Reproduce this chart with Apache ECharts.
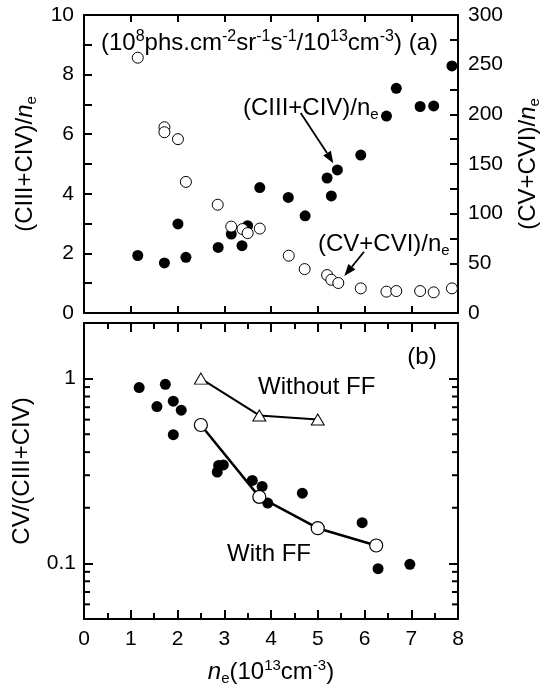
<!DOCTYPE html>
<html>
<head>
<meta charset="utf-8">
<script src="https://cdn.jsdelivr.net/npm/echarts@6/dist/echarts.min.js"></script>
<style>html,body{margin:0;padding:0;background:#fff;}#c{width:544px;height:691px;}</style>
</head>
<body>
<div id="c"></div>
<script>
// ---- data ----
// panel (a): (CIII+CIV)/ne, left axis
const neA1 = [1.15,1.72,2.01,2.18,2.87,3.15,3.38,3.50,3.76,4.37,4.73,5.20,5.42,5.29,5.92,6.47,6.68,7.19,7.48,7.87];
const ciiiCiv = [1.93,1.68,2.99,1.87,2.20,2.65,2.26,2.93,4.21,3.88,3.26,4.53,4.80,3.93,5.30,6.61,7.54,6.93,6.95,8.29];
// panel (a): (CV+CVI)/ne, right axis
const neA2 = [1.15,1.72,1.72,2.01,2.18,2.86,3.15,3.39,3.50,3.76,4.38,4.72,5.20,5.29,5.44,5.92,6.47,6.68,7.19,7.48,7.87];
const cvCvi = [257,187,182,175,132,109,87,84.5,80.4,85,57.7,44.2,38.2,33.5,30.2,24.8,21.5,22.1,22.1,20.8,24.8];
// panel (b): CV/(CIII+CIV) measured
const neB = [1.18,1.56,1.74,1.91,2.08,1.91,2.85,2.88,2.98,3.60,3.81,3.93,4.67,5.95,6.29,6.97];
const ratioB = [0.894,0.706,0.932,0.755,0.675,0.497,0.312,0.339,0.341,0.281,0.261,0.212,0.240,0.166,0.0936,0.0988];
// panel (b): model curves
const neWith = [2.5,3.75,5.0,6.25];
const withFF = [0.561,0.229,0.155,0.125];
const neWithout = [2.5,3.75,5.0];
const withoutFF = [1.0,0.632,0.601];
// tick values
const xTicks = [0,1,2,3,4,5,6,7,8];
const logLabels = [0.1, 1];
const logMinor = [0.06,0.07,0.08,0.09,0.2,0.3,0.4,0.5,0.6,0.7,0.8,0.9];

const zip = (a,b) => a.map((v,i)=>[v,b[i]]);
const F = 'Liberation Sans';
const TC = '#000';
const AX = {show:true, lineStyle:{color:'#000',width:2}, onZero:false};
const TK = (len) => ({show:true, inside:true, length:len, lineStyle:{color:TC,width:2}});
const MTK = (show,len) => ({show:show, splitNumber:2, length:len, lineStyle:{color:TC,width:2}});
const NF = 24;
const nameRich = {i:{fontStyle:'italic',fontFamily:F,fontSize:NF,lineHeight:28,color:'#000'},
  sub:{fontFamily:F,fontSize:15,lineHeight:15,verticalAlign:'bottom',color:'#000'},
  sup:{fontFamily:F,fontSize:15,lineHeight:15,verticalAlign:'top',color:'#000'}};

function xAx(grid, pos, labels, minor){
  return {type:'value', gridIndex:grid, position:pos, min:0, max:8, interval:1,
    axisLine:AX, splitLine:{show:false},
    axisTick:TK(minor?9:7),
    minorTick:MTK(minor,6),
    axisLabel:{show:labels, margin:10, color:'#000', fontFamily:F, fontSize:21,
      formatter:v=> xTicks.indexOf(v)>=0 ? String(v) : ''},
    name: labels ? '{i|n}{sub|e}(10{sup|13}cm{sup|-3})' : '',
    nameLocation:'middle', nameGap:39,
    nameTextStyle:{color:'#000', fontFamily:F, fontSize:NF, lineHeight:28, rich:nameRich}
  };
}

const option = {
  animation:false,
  backgroundColor:'#fff',
  grid:[
    {left:84, right:86, top:15, height:298, containLabel:false, outerBoundsMode:'none'},
    {left:84, right:86, top:323, height:296, containLabel:false, outerBoundsMode:'none'}
  ],
  xAxis:[ xAx(0,'bottom',false,false), xAx(0,'top',false,false), xAx(1,'bottom',true,true), xAx(1,'top',false,true) ],
  yAxis:[
    {type:'value', gridIndex:0, position:'left', min:0, max:10, interval:2,
     axisLine:AX, splitLine:{show:false}, axisTick:TK(8), minorTick:MTK(true,8),
     axisLabel:{margin:10,color:'#000',fontFamily:F,fontSize:21},
     name:'(CIII+CIV)/{i|n}{sub|e}', nameLocation:'middle', nameRotate:90, nameGap:39,
     nameTextStyle:{color:'#000',fontFamily:F,fontSize:NF,lineHeight:28,rich:nameRich}},
    {type:'value', gridIndex:0, position:'right', min:0, max:300, interval:50,
     axisLine:AX, splitLine:{show:false}, axisTick:TK(8), minorTick:MTK(true,8),
     axisLabel:{margin:10,color:'#000',fontFamily:F,fontSize:21},
     name:'(CV+CVI)/{i|n}{sub|e}', nameLocation:'middle', nameRotate:90, nameGap:49,
     nameTextStyle:{color:'#000',fontFamily:F,fontSize:NF,lineHeight:28,rich:nameRich}},
    {type:'log', logBase:10, gridIndex:1, position:'left', min:0.05, max:2,
     axisLine:AX, splitLine:{show:false}, axisTick:TK(9),
     axisLabel:{margin:8,color:'#000',fontFamily:F,fontSize:21,
       formatter:v=> logLabels.some(t=>Math.abs(t-v)<1e-9) ? String(v) : ''},
     name:'CV/(CIII+CIV)', nameLocation:'middle', nameRotate:90, nameGap:39,
     nameTextStyle:{color:'#000',fontFamily:F,fontSize:NF,lineHeight:28}},
    {type:'log', logBase:10, gridIndex:1, position:'right', min:0.05, max:2,
     axisLine:AX, splitLine:{show:false}, axisTick:TK(9),
     axisLabel:{show:false}}
  ],
  series:[
    {type:'scatter', xAxisIndex:0, yAxisIndex:0, data:zip(neA1,ciiiCiv), symbol:'circle', symbolSize:11,
     itemStyle:{color:'#000',opacity:1}, z:3},
    {type:'scatter', xAxisIndex:0, yAxisIndex:1, data:zip(neA2,cvCvi), symbol:'circle', symbolSize:11,
     itemStyle:{color:'#fff',borderColor:'#000',borderWidth:1,opacity:1}, z:4},
    {type:'scatter', xAxisIndex:2, yAxisIndex:2, data:zip(neB,ratioB), symbol:'circle', symbolSize:11,
     itemStyle:{color:'#000',opacity:1}, z:3},
    {type:'line', xAxisIndex:2, yAxisIndex:2, data:zip(neWith,withFF), symbol:'circle', symbolSize:13,
     showAllSymbol:true, lineStyle:{color:'#000',width:2.5}, itemStyle:{color:'#fff',borderColor:'#000',borderWidth:1.2,opacity:1}, z:4},
    {type:'line', xAxisIndex:2, yAxisIndex:2, data:zip(neWithout,withoutFF), symbol:'triangle', symbolSize:[13,11],
     showAllSymbol:true, lineStyle:{color:'#000',width:2}, itemStyle:{color:'#fff',borderColor:'#000',borderWidth:1,opacity:1}, z:4},
    {type:'custom', xAxisIndex:2, yAxisIndex:2, data:logMinor.map(v=>[0,v]), clip:false, silent:true, z:10,
     renderItem:(params, api)=>{
       const v = api.value(1);
       const pl = api.coord([0, v]); const pr = api.coord([8, v]);
       return {type:'group', children:[
         {type:'line', shape:{x1:pl[0],y1:pl[1],x2:pl[0]+6,y2:pl[1]}, style:{stroke:TC,lineWidth:2}},
         {type:'line', shape:{x1:pr[0],y1:pr[1],x2:pr[0]-6,y2:pr[1]}, style:{stroke:TC,lineWidth:2}}
       ]};
     }}
  ],
  graphic:[
    {type:'text', x:101, y:43, style:{text:'(10{sup|8}phs.cm{sup|-2}sr{sup|-1}s{sup|-1}/10{sup|13}cm{sup|-3}) (a)',
      fill:'#000', font:NF+'px '+F, lineHeight:28, verticalAlign:'middle', align:'left',
      rich:{sup:{fontFamily:F,fontSize:16,lineHeight:16,verticalAlign:'top',fill:'#000'}}}},
    {type:'text', x:243, y:108, style:{text:'(CIII+CIV)/n{sub|e}', fill:'#000', font:NF+'px '+F, lineHeight:28,
      verticalAlign:'middle', align:'left',
      rich:{sub:{fontFamily:F,fontSize:15,lineHeight:15,verticalAlign:'bottom',fill:'#000'}}}},
    {type:'text', x:318, y:244, style:{text:'(CV+CVI)/n{sub|e}', fill:'#000', font:NF+'px '+F, lineHeight:28,
      verticalAlign:'middle', align:'left',
      rich:{sub:{fontFamily:F,fontSize:15,lineHeight:15,verticalAlign:'bottom',fill:'#000'}}}},
    {type:'line', shape:{x1:300.7,y1:113,x2:327,y2:153}, style:{stroke:'#000',lineWidth:1.8}},
    {type:'polygon', shape:{points:[[333.3,163.3],[323.2,155.4],[330.9,150.7]]}, style:{fill:'#000'}},
    {type:'line', shape:{x1:364,y1:251.7,x2:351.9,y2:266.7}, style:{stroke:'#000',lineWidth:1.8}},
    {type:'polygon', shape:{points:[[344.3,276],[348.4,263.9],[355.4,269.5]]}, style:{fill:'#000'}},
    {type:'text', x:422, y:357, style:{text:'(b)', fill:'#000', font:NF+'px '+F, verticalAlign:'middle', align:'center'}},
    {type:'text', x:258, y:387, style:{text:'Without FF', fill:'#000', font:NF+'px '+F, verticalAlign:'middle', align:'left'}},
    {type:'text', x:227, y:554, style:{text:'With FF', fill:'#000', font:NF+'px '+F, verticalAlign:'middle', align:'left'}}
  ]
};
const chart = echarts.init(document.getElementById('c'), null, {renderer:'canvas'});
chart.setOption(option);
</script>
</body>
</html>
